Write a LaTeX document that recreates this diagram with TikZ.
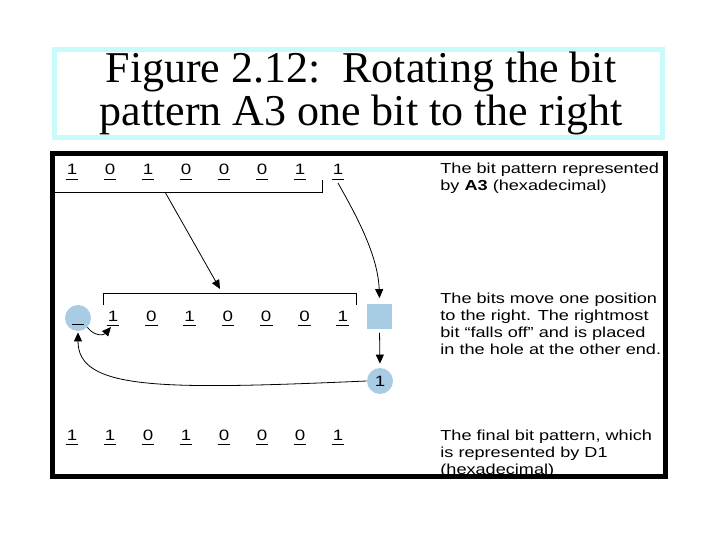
\documentclass[tikz,border=0pt]{standalone}
\usepackage{fontspec}
\setmainfont{Liberation Serif}
\newfontfamily\lbl[FakeStretch=1.25]{Liberation Sans}
\usetikzlibrary{arrows.meta}
\definecolor{holeblue}{RGB}{168,204,228}
\definecolor{titlecyan}{RGB}{200,250,250}

\begin{document}
\begin{tikzpicture}[x=1pt,y=-1pt,>={Triangle[length=9pt,width=8pt]},line width=0.8pt,
  bit/.style={font=\lbl\fontsize{15}{17}\selectfont,inner sep=0pt,minimum width=12pt,anchor=base},
  note/.style={font=\lbl\fontsize{14.5}{17}\selectfont,inner sep=0pt,anchor=north west,align=left},
  spot/.style={fill=holeblue,inner sep=0pt}]
  \useasboundingbox (0,0) rectangle (720,540);
  % title
  \draw[titlecyan,line width=5pt] (54.5,49.5) rectangle (662.5,137.5);
  \node[font=\fontsize{44}{43}\selectfont,align=center,anchor=north,inner sep=0pt] (title) at (361,52)
    {Figure 2.12:\ \ Rotating the bit\\pattern A3 one bit to the right};
  \draw[line width=5pt] (52.5,153.5) rectangle (665.5,476);
  % first row
  \foreach \bitval [count=\i] in {1,0,1,0,0,0,1,1} {
    \node[bit] (a\i) at (34+38*\i,175) {\bitval};
    \draw ([yshift=-4pt]a\i.base west) -- ([yshift=-4pt]a\i.base east);
  }
  \draw (52.5,192) -- (322,192) -- (322,180);
  \node[note] (n1) at (440,162.4) {The bit pattern represented\\by \textbf{A3} (hexadecimal)};
  % second row
  \node[spot,circle,minimum size=26pt] (hole) at (78,318) {};
  \draw (72,324) -- (84,324);
  \foreach \bitval [count=\i] in {1,0,1,0,0,0,1} {
    \node[bit] (b\i) at (74.7+38.3*\i,321) {\bitval};
    \draw ([yshift=-4pt]b\i.base west) -- ([yshift=-4pt]b\i.base east);
  }
  \draw (103,305) -- (103,293) -- (356,293) -- (356,305);
  \node[spot,minimum size=25pt] (slot) at (379.5,316) {};
  \node[spot,circle,minimum size=26pt,font=\lbl\fontsize{15}{17}\selectfont] (fell) at (380,381) {1};
  \node[note] (n2) at (440,292.4) {The bits move one position\\to the right. The rightmost\\bit “falls off” and is placed\\in the hole at the other end.};
  % arrows
  \coordinate (src) at (165,192);
  \coordinate (dst) at (220,289);
  \draw[->] (src) -- (dst);
  \draw[->] ([yshift=-8pt]a8.base) .. controls (356,215) and (378,255) .. ([yshift=5pt]slot.north);
  \draw[->,shorten <=4pt,shorten >=4pt] (slot.south) -- (fell.north);
  \draw[->,shorten >=1pt] (fell.west) .. controls (160,390) and (78,390) .. (hole.south);
  \draw[->] (hole.south east) .. controls (95,337) and (104,335) .. ([xshift=-2pt,yshift=-6pt]b1.base);
  % last row
  \foreach \bitval [count=\i] in {1,1,0,1,0,0,0,1} {
    \node[bit] (c\i) at (34+38*\i,440) {\bitval};
    \draw ([yshift=-4pt]c\i.base west) -- ([yshift=-4pt]c\i.base east);
  }
  \node[note] (n3) at (440,429.4) {The final bit pattern, which\\is represented by D1\\(hexadecimal)};
\end{tikzpicture}
\end{document}
